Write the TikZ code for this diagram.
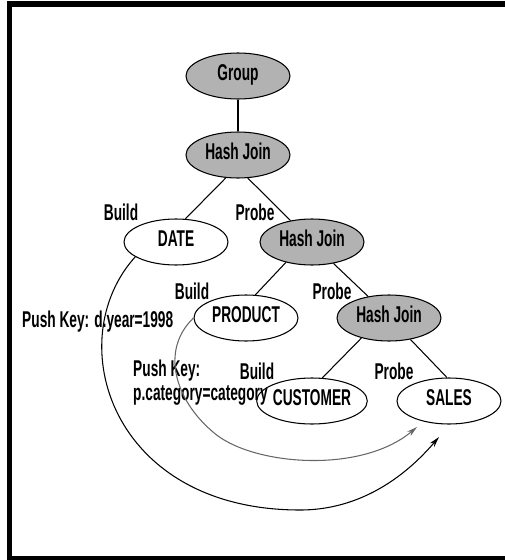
\documentclass[tikz,border=0pt]{standalone}
\usepackage{fontspec}
\setmainfont{Liberation Sans}[FakeStretch=0.6]
\usetikzlibrary{arrows.meta,positioning,shapes.geometric}
\newcommand{\figfont}{\fontsize{19.5}{20}\bfseries\selectfont}
\tikzset{%
  operator/.style={ellipse, draw, line width=0.9pt, fill=black!30, minimum width=3.12cm, minimum height=1.38cm, inner sep=0pt, font=\figfont, text height=0.72em, text depth=0pt},
  relation/.style={operator, fill=white},
  line/.style={draw, line width=0.9pt},
  pushline/.style={draw, line width=0.9pt, -{Stealth[length=0.32cm, width=0.17cm]}},
  lbl/.style={font=\figfont, inner sep=0pt, text height=0.72em, text depth=0pt},
  frame/.style={draw, line width=0.16cm},
}
\newcommand{\treelink}[4]{%
  \path [line] (#1.#2) -- (#3.#4);}

\begin{document}
\begin{tikzpicture}[x=0.03cm, y=-0.03cm]
  \useasboundingbox (0,0) rectangle (505,560);
  \draw [frame] (9.5,4) rectangle (530,559);

  \node [operator] (grp) at (238,76) {Group};
  \node [operator] (hj1) at (238,155) {Hash Join};
  \node [relation] (date) at (176,242) {DATE};
  \node [operator] (hj2) at (312,242) {Hash Join};
  \node [relation] (prod) at (246,318) {PRODUCT};
  \node [operator] (hj3) at (389,318) {Hash Join};
  \node [relation] (cust) at (312,401) {CUSTOMER};
  \node [relation] (sales) at (449,401) {SALES};

  \path [line] (grp.south) -- (hj1.north);
  \treelink{hj1}{242}{date}{68};
  \treelink{hj1}{293}{hj2}{135};
  \treelink{hj2}{218}{prod}{68};
  \treelink{hj2}{315}{hj3}{134};
  \treelink{hj3}{216}{cust}{66};
  \treelink{hj3}{315}{sales}{95};

  \node [lbl] (b1) at (121,216) {Build};
  \node [lbl] (p1) at (255,216) {Probe};
  \node [lbl] (b2) at (192,295) {Build};
  \node [lbl] (p2) at (332,295) {Probe};
  \node [lbl] (b3) at (257,375) {Build};
  \node [lbl] (p3) at (394,375) {Probe};
  \node [lbl, anchor=west] (pk1) at (22,323) {Push Key: d.year=1998};
  \node [font=\figfont, inner sep=0pt, anchor=base west, align=left] (pk2) at (133,400) {Push Key:\\p.category=category};

  \coordinate (dlow) at (300,510);
  \coordinate (plow) at (213,432);
  \path [pushline] (date.200) .. controls (60,340) and (110,510) .. (dlow)
    .. controls (370,510) and (415,465) .. (439,437);
  \path [pushline, color=black!60] (prod.west) .. controls (160,350) and (175,400) .. (plow)
    .. controls (250,465) and (360,475) .. (417,427);
\end{tikzpicture}
\end{document}
